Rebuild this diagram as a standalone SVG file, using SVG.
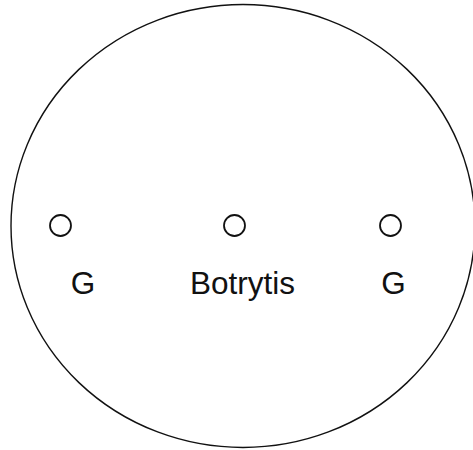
<svg xmlns="http://www.w3.org/2000/svg" width="473" height="450" viewBox="0 0 473 450">
<style>
.dish{fill:none;stroke:#111;stroke-width:1.4}
.spot{fill:none;stroke:#111;stroke-width:1.8}
.lbl{font-family:"Liberation Sans",Arial,sans-serif;font-size:31.5px;fill:#111;text-anchor:middle}
</style>
<rect width="473" height="450" fill="#fff"/>
<g id="dish"><ellipse class="dish" cx="243" cy="226" rx="232" ry="221.5"/></g>
<g id="spot-left"><circle class="spot" cx="60.5" cy="225.5" r="10.5"/><text class="lbl" x="83" y="294">G</text></g>
<g id="spot-center"><circle class="spot" cx="234.5" cy="225.5" r="10.5"/><text class="lbl" x="242.5" y="294">Botrytis</text></g>
<g id="spot-right"><circle class="spot" cx="390.5" cy="225.5" r="10.5"/><text class="lbl" x="393.5" y="294">G</text></g>
<g id="connectors"></g>
</svg>
